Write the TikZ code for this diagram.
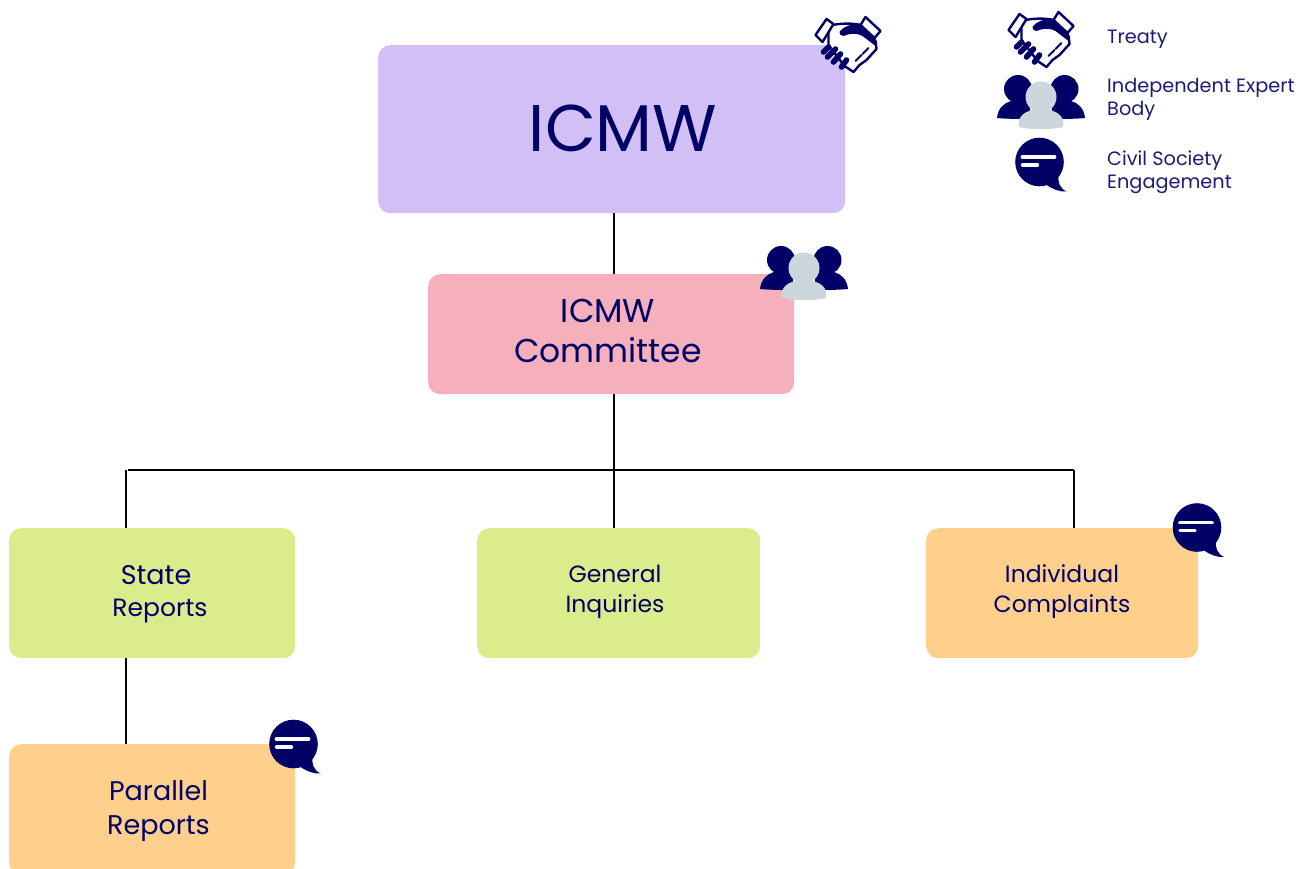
\documentclass[tikz,border=0pt]{standalone}
\usepackage{fontspec}
\setmainfont{Poppins}
\usetikzlibrary{positioning}
\definecolor{navy}{HTML}{000066}
\definecolor{legendink}{HTML}{1C1C78}
\definecolor{lilac}{HTML}{D2BFF5}
\definecolor{rose}{HTML}{F5B0BB}
\definecolor{lime}{HTML}{DBEC8C}
\definecolor{peach}{HTML}{FFD08C}
\definecolor{steel}{HTML}{CBD6DD}

\tikzset{
  box/.style={rounded corners=12pt, inner sep=0pt, anchor=north west},
  label/.style={text=navy, align=center, inner sep=0pt},
  legendtext/.style={text=legendink, align=left, anchor=west, inner sep=0pt, font=\fontsize{19.3}{23}\selectfont},
  link/.style={black, line width=1.6pt},
  pics/handshake/.style={code={
    % cuffs and hands, local coordinates in pixels
    \fill [white, draw=navy, line width=2.4pt, line join=round]
      (-20,-19) .. controls (-10,-22) and (5,-22) .. (12,-20)
      -- (27,-4) -- (28,4) -- (18,15) -- (11,20) -- (5,27) -- (-4,21) -- (-20,0) -- cycle;
    \fill [navy]
      (-9,-13) .. controls (-6,-18) and (4,-22) .. (12,-21)
      -- (27,-7) -- (27,1) -- (14,-9) .. controls (6,-13) and (0,-11) .. (-5,-9)
      .. controls (-8,-9) and (-9,-11) .. (-9,-13) -- cycle;
    \fill [white, draw=navy, line width=2.4pt, line join=round]
      (-22,-26) -- (-15,-21) -- (-26,-3) -- (-33,-10) -- cycle;
    \fill [white, draw=navy, line width=2.4pt, line join=round]
      (17,-28) -- (32,-14) -- (26,-7) -- (12,-20) -- cycle;
    \draw [navy, line width=2pt, line cap=round]
      (20,3) -- (14,9) (13,10) -- (7,16);
    \draw [navy, line width=5.6pt, line cap=round]
      (-25,7) -- (-20,2) (-21,12) -- (-13,4) (-15,17) -- (-8,9) (-7,22) -- (-2,15);
  }},
  pics/people/.style={code={
    \fill [navy] (-23,-11) circle (14);
    \fill [navy] (23.5,-11) circle (14);
    \fill [navy] (-44,18) .. controls (-43,8) and (-37,3) .. (-30,1)
      -- (-12,-2) -- (-10,19) .. controls (-20,19) and (-34,19) .. (-44,18) -- cycle;
    \fill [navy] (44,18) .. controls (43,8) and (37,3) .. (30,1)
      -- (12,-2) -- (10,19) .. controls (20,19) and (34,19) .. (44,18) -- cycle;
    \fill [steel] (0,-3) circle (15.5);
    \fill [steel] (-22,27) -- (-22,21) .. controls (-21,14) and (-12,9) .. (0,9)
      .. controls (12,9) and (21,14) .. (22,21) -- (22,27)
      .. controls (10,30) and (-10,30) .. (-22,27) -- cycle;
  }},
  pics/bubble/.style={code={
    \fill [navy] (0,0) circle (24.3);
    \fill [navy] (10,20) -- (19,12) .. controls (18,20) and (20,26) .. (27,29.5)
      .. controls (20,30) and (13,27) .. (7,23) -- cycle;
    \draw [white, line width=3.8pt, line cap=round] (-17,-5) -- (15,-5);
    \draw [white, line width=3.4pt, line cap=round] (-17,3) -- (-2,3);
  }},
}

\begin{document}
\begin{tikzpicture}[x=1pt, y=-1pt]
  \useasboundingbox (0,0) rectangle (1312,868);
  \clip (0,0) rectangle (1312,868);

  % the boxes
  \node [box, fill=lilac, minimum width=467pt, minimum height=168pt] (icmw) at (378,45) {};
  \node [box, fill=rose, minimum width=366pt, minimum height=120pt] (committee) at (428,274) {};
  \node [box, fill=lime, minimum width=286pt, minimum height=130pt] (state) at (9,528) {};
  \node [box, fill=lime, minimum width=283pt, minimum height=130pt] (general) at (477,528) {};
  \node [box, fill=peach, minimum width=272pt, minimum height=130pt] (individual) at (926,528) {};
  \node [box, fill=peach, minimum width=286pt, minimum height=130pt] (parallel) at (9,744) {};

  % the tree
  \coordinate (busleft) at (126,470);
  \coordinate (busmid) at (614,470);
  \coordinate (busright) at (1074,470);
  \draw [link] (icmw.south -| busmid) -- (committee.north -| busmid);
  \draw [link] (committee.south -| busmid) -- (general.north -| busmid);
  \draw [link] ([xshift=2pt]busleft) -- (busright);
  \draw [link] (busleft) -- (state.north -| busleft);
  \draw [link] (busright) -- (individual.north -| busright);
  \draw [link] (state.south -| busleft) -- (parallel.north -| busleft);

  % the texts
  \node [label, font=\fontsize{66}{66}\selectfont] (icmwtext) at (623,128) {ICMW};
  \node [label, font=\fontsize{33}{39.5}\selectfont] (committeetext) at (608,331) {ICMW\\Committee};
  \node [label, font=\fontsize{27}{27}\selectfont] (statetext) at (156,575) {State};
  \node [label, font=\fontsize{25}{25}\selectfont] (reportstext) at (160,611) {Reports};
  \node [label, font=\fontsize{23.5}{30}\selectfont] (generaltext) at (615,592) {General\\Inquiries};
  \node [label, font=\fontsize{23.5}{30}\selectfont] (individualtext) at (1062,592) {Individual\\Complaints};
  \node [label, font=\fontsize{27}{34}\selectfont] (paralleltext) at (158.5,811) {Parallel\\Reports};

  % the icons
  \pic at (848.5,45) {handshake};
  \pic at (804,271) {people};
  \pic at (1197,527.5) {bubble};
  \pic at (293.5,744) {bubble};

  % the legend
  \pic at (1041.5,40) {handshake};
  \pic at (1041,100) {people};
  \pic at (1039.5,162) {bubble};
  \node [legendtext] (treaty) at (1107,39) {Treaty};
  \node [legendtext] (expert) at (1107,99) {Independent Expert\\Body};
  \node [legendtext] (civil) at (1107,172) {Civil Society\\Engagement};
\end{tikzpicture}
\end{document}
